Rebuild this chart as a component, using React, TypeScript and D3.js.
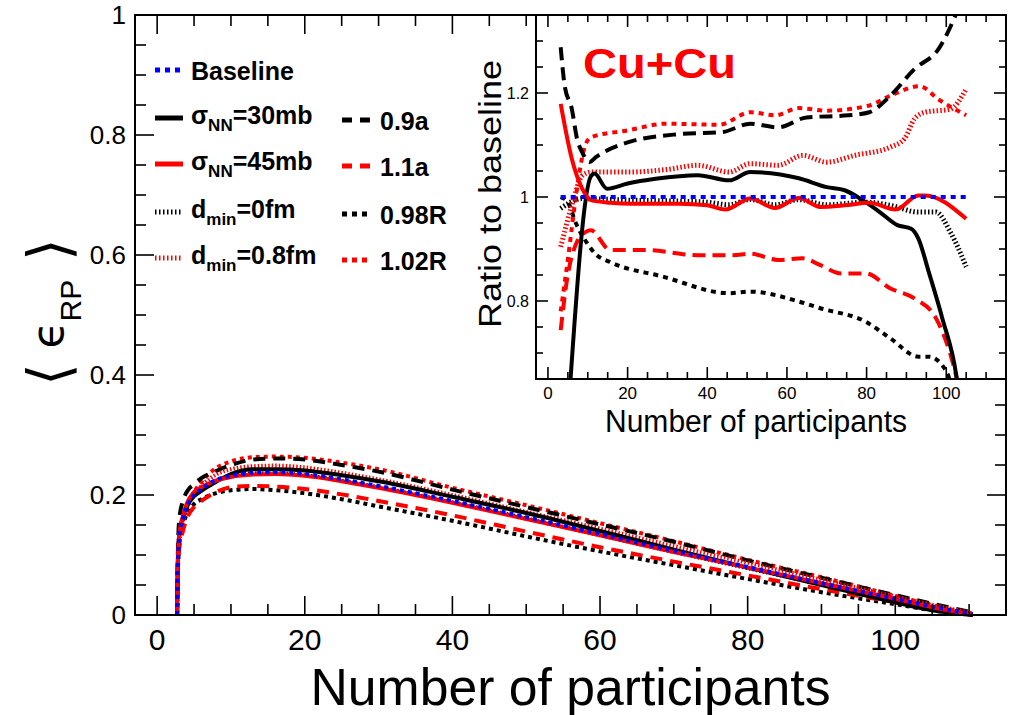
import React, { useRef, useEffect } from "react";
import * as d3 from "d3";

// main panel: <eps_RP> vs number of participants (shared x grid)
const mainN = [2.7, 2.8, 3, 3.5, 4, 5, 6, 8, 10, 13, 16, 20, 25, 30, 40, 50, 60, 70, 80, 90, 100, 105, 110.5];
const mainBaseline = [0, 0.08, 0.13, 0.16, 0.18, 0.2, 0.21, 0.225, 0.232, 0.237, 0.238, 0.235, 0.226, 0.215, 0.19, 0.163, 0.135, 0.107, 0.08, 0.053, 0.027, 0.014, 0.001];
const mainSigma30 = [0, 0.09, 0.135, 0.163, 0.18, 0.198, 0.207, 0.222, 0.235, 0.243, 0.243, 0.241, 0.233, 0.223, 0.197, 0.17, 0.14, 0.109, 0.079, 0.05, 0.021, 0.008, 0];
const mainSigma45 = [0, 0.085, 0.135, 0.165, 0.185, 0.205, 0.213, 0.224, 0.23, 0.234, 0.235, 0.232, 0.223, 0.212, 0.187, 0.16, 0.133, 0.105, 0.079, 0.053, 0.027, 0.013, 0.001];
const mainDmin0 = [0, 0.08, 0.128, 0.158, 0.178, 0.199, 0.209, 0.224, 0.231, 0.236, 0.236, 0.233, 0.224, 0.213, 0.188, 0.161, 0.133, 0.105, 0.078, 0.051, 0.025, 0.012, 0.001];
const mainDmin08 = [0, 0.075, 0.12, 0.155, 0.178, 0.2, 0.215, 0.234, 0.243, 0.248, 0.249, 0.246, 0.237, 0.226, 0.2, 0.172, 0.144, 0.115, 0.087, 0.059, 0.031, 0.017, 0.003];
const mainA09 = [0, 0.1, 0.16, 0.19, 0.205, 0.218, 0.228, 0.24, 0.25, 0.259, 0.261, 0.259, 0.25, 0.239, 0.209, 0.18, 0.151, 0.122, 0.091, 0.062, 0.033, 0.019, 0.004];
const mainA11 = [0, 0.07, 0.11, 0.14, 0.16, 0.18, 0.19, 0.205, 0.213, 0.215, 0.214, 0.21, 0.201, 0.19, 0.166, 0.139, 0.113, 0.089, 0.066, 0.043, 0.021, 0.009, 0];
const mainR098 = [0, 0.075, 0.12, 0.15, 0.168, 0.185, 0.193, 0.203, 0.208, 0.21, 0.208, 0.203, 0.193, 0.181, 0.157, 0.131, 0.106, 0.083, 0.06, 0.038, 0.018, 0.008, 0];
const mainR102 = [0, 0.07, 0.12, 0.155, 0.18, 0.205, 0.222, 0.245, 0.256, 0.263, 0.264, 0.262, 0.254, 0.243, 0.212, 0.183, 0.153, 0.123, 0.092, 0.063, 0.032, 0.016, 0.002];

// inset: ratio to baseline
const insBaselineN = [3.2, 105];
const insBaselineR = [1, 1];
const insSigma30N = [5.4, 10.8, 11.7, 14.8, 20, 27, 37.6, 45.5, 50.8, 63, 70, 74.5, 79, 83.3, 87.7, 91.2, 93, 95.6, 99, 102.6, 103.5];
const insSigma30R = [0.62, 1.04, 1.045, 1.016, 1.026, 1.035, 1.042, 1.032, 1.048, 1.036, 1.019, 1.013, 0.994, 0.971, 0.946, 0.939, 0.92, 0.856, 0.767, 0.653, 0.6];
const insSigma45N = [3.2, 6, 8.6, 10.8, 15.6, 21, 33, 40, 44.6, 50.8, 57, 63, 68.4, 74.5, 80.7, 87.3, 93, 94.7, 105];
const insSigma45R = [1.179, 1.073, 1.016, 0.994, 0.989, 0.987, 0.987, 0.984, 0.976, 0.997, 0.979, 0.998, 0.981, 0.984, 0.989, 0.976, 1.003, 1.003, 0.958];
const insDmin0N = [3.2, 8.6, 20, 33, 40, 45.5, 50.8, 57, 63, 70, 80, 86, 93, 97.4, 101, 105];
const insDmin0R = [0.978, 0.997, 0.994, 0.992, 0.99, 0.985, 0.995, 0.985, 0.995, 0.985, 0.99, 0.984, 0.971, 0.971, 0.933, 0.866];
const insDmin08N = [3.2, 6, 8.6, 10.8, 20, 30, 37.6, 45.5, 50.8, 57.8, 64, 70, 77, 86, 89.5, 92, 94.7, 101, 105];
const insDmin08R = [0.904, 0.984, 1.041, 1.048, 1.048, 1.053, 1.061, 1.048, 1.064, 1.061, 1.08, 1.067, 1.08, 1.096, 1.112, 1.15, 1.163, 1.169, 1.208];
const insA09N = [3.2, 4.2, 6, 7.3, 8.6, 10.4, 12.1, 20, 33, 43.8, 50.8, 57.8, 64.9, 75.4, 80.7, 86, 92, 98, 103.5];
const insA09R = [1.288, 1.214, 1.169, 1.112, 1.086, 1.067, 1.077, 1.105, 1.121, 1.125, 1.141, 1.134, 1.153, 1.157, 1.163, 1.195, 1.246, 1.284, 1.37];
const insA11N = [3.2, 4.7, 6.9, 9.5, 10.8, 15.6, 24.4, 37.6, 46.4, 50.8, 57.8, 64, 68.4, 73.6, 79.8, 86, 92, 97.4, 101.8, 103];
const insA11R = [0.744, 0.837, 0.907, 0.933, 0.936, 0.898, 0.898, 0.888, 0.888, 0.891, 0.879, 0.882, 0.869, 0.853, 0.853, 0.824, 0.805, 0.767, 0.677, 0.64];
const insR098N = [3.2, 5, 7, 9.5, 12, 15.6, 28.8, 45.5, 50.8, 63, 68.4, 79.8, 86, 93, 95.6, 100, 101.5];
const insR098R = [1.0, 0.99, 0.95, 0.915, 0.89, 0.875, 0.847, 0.815, 0.818, 0.799, 0.786, 0.76, 0.728, 0.693, 0.693, 0.665, 0.63];
const insR102N = [3.2, 5, 7, 9, 10.8, 20, 29.7, 43, 50.8, 57, 63, 70, 80.7, 86, 93.4, 98, 105];
const insR102R = [0.78, 0.88, 1.0, 1.09, 1.115, 1.128, 1.141, 1.139, 1.163, 1.157, 1.171, 1.166, 1.176, 1.195, 1.213, 1.188, 1.157];

const xTickLabels = [0, 20, 40, 60, 80, 100];
const mainYTicks = [0, 0.2, 0.4, 0.6, 0.8, 1];
const insetYTicks = [0.8, 1, 1.2];

const legendCol1 = [["Baseline"], ["σ", "NN", "=30mb"], ["σ", "NN", "=45mb"], ["d", "min", "=0fm"], ["d", "min", "=0.8fm"]];
const legendCol2 = ["0.9a", "1.1a", "0.98R", "1.02R"];

const RED = "#ff0000";
const BLUE = "#0000ff";

// drawn in this order (baseline last, on top)
const series = [
  { key: "0.98R", main: mainR098, n: insR098N, r: insR098R, color: "#000", kind: "dot" },
  { key: "1.02R", main: mainR102, n: insR102N, r: insR102R, color: RED, kind: "dot" },
  { key: "0.9a", main: mainA09, n: insA09N, r: insA09R, color: "#000", kind: "dash" },
  { key: "1.1a", main: mainA11, n: insA11N, r: insA11R, color: RED, kind: "dash" },
  { key: "dmin0", main: mainDmin0, n: insDmin0N, r: insDmin0R, color: "#000", kind: "fine" },
  { key: "dmin08", main: mainDmin08, n: insDmin08N, r: insDmin08R, color: RED, kind: "fine" },
  { key: "s30", main: mainSigma30, n: insSigma30N, r: insSigma30R, color: "#000", kind: "solid" },
  { key: "s45", main: mainSigma45, n: insSigma45N, r: insSigma45R, color: RED, kind: "solid" },
  { key: "base", main: mainBaseline, n: insBaselineN, r: insBaselineR, color: BLUE, kind: "dot" },
];

const mainDash: Record<string, string | null> = { solid: null, dot: "4,4", dash: "12,8", fine: "1.5,2" };
const insetDash: Record<string, string | null> = { solid: null, dot: "5,5", dash: "13,7", fine: "1.5,2.2" };

function App() {
  const svgRef = useRef<SVGSVGElement>(null);

  useEffect(() => {
    document.body.style.margin = "0";
    const svg = d3.select(svgRef.current);
    svg.selectAll("*").remove();

    const font = "'Liberation Sans', Arial, Helvetica, sans-serif";
    const M = { left: 135, right: 1006, top: 15, bottom: 615 };
    const I = { left: 536, right: 1006, top: 15, bottom: 379 };

    const x = d3.scaleLinear().domain([-3, 115]).range([M.left, M.right]);
    const y = d3.scaleLinear().domain([0, 1]).range([M.bottom, M.top]);
    const xi = d3.scaleLinear().domain([-3, 115]).range([I.left, I.right]);
    const yi = d3.scaleLinear().domain([0.65, 1.35]).range([I.bottom, I.top]);

    svg.append("rect").attr("width", 1024).attr("height", 715).attr("fill", "#fff");

    // ---- main curves
    const gMain = svg.append("g");
    series.forEach((s) => {
      const path = d3
        .line<number>()
        .x((_, i) => x(mainN[i]))
        .y((d) => y(d))
        .curve(d3.curveMonotoneX)(s.main);
      gMain
        .append("path")
        .attr("d", path)
        .attr("fill", "none")
        .attr("stroke", s.color)
        .attr("stroke-width", 4)
        .attr("stroke-dasharray", mainDash[s.kind]);
    });

    // ticks on all four sides, pointing inwards
    function drawTicks(g, sx, sy, box, xMaj, xMin, yMaj, yMin, lMaj, lMin) {
      const t = g.append("g").attr("stroke", "#000").attr("stroke-width", 1.6);
      xMin.forEach((v) => {
        const len = xMaj.includes(v) ? lMaj : lMin;
        t.append("line").attr("x1", sx(v)).attr("x2", sx(v)).attr("y1", box.bottom).attr("y2", box.bottom - len);
        t.append("line").attr("x1", sx(v)).attr("x2", sx(v)).attr("y1", box.top).attr("y2", box.top + len);
      });
      yMin.forEach((v) => {
        const len = yMaj.some((m) => Math.abs(m - v) < 1e-6) ? lMaj : lMin;
        t.append("line").attr("y1", sy(v)).attr("y2", sy(v)).attr("x1", box.left).attr("x2", box.left + len);
        t.append("line").attr("y1", sy(v)).attr("y2", sy(v)).attr("x1", box.right).attr("x2", box.right - len);
      });
      g.append("rect")
        .attr("x", box.left)
        .attr("y", box.top)
        .attr("width", box.right - box.left)
        .attr("height", box.bottom - box.top)
        .attr("fill", "none")
        .attr("stroke", "#000")
        .attr("stroke-width", 2);
    }

    drawTicks(svg, x, y, M, xTickLabels, d3.range(0, 111, 5), mainYTicks, d3.range(0.05, 1, 0.05).map((v) => +v.toFixed(2)), 19, 11);

    // main tick labels
    svg
      .append("g")
      .selectAll("text")
      .data(xTickLabels)
      .join("text")
      .attr("x", (d) => x(d))
      .attr("y", 650)
      .attr("text-anchor", "middle")
      .attr("font-family", font)
      .attr("font-size", 30)
      .text((d) => d);
    svg
      .append("g")
      .selectAll("text")
      .data(mainYTicks)
      .join("text")
      .attr("x", 126)
      .attr("y", (d) => y(d) + 9)
      .attr("text-anchor", "end")
      .attr("font-family", font)
      .attr("font-size", 26)
      .text((d) => String(d));

    svg
      .append("text")
      .attr("x", (M.left + M.right) / 2)
      .attr("y", 705)
      .attr("text-anchor", "middle")
      .attr("font-family", font)
      .attr("font-size", 52)
      .attr("textLength", 520)
      .attr("lengthAdjust", "spacingAndGlyphs")
      .text("Number of participants");

    const yl = svg
      .append("text")
      .attr("transform", "translate(63,312) rotate(-90)")
      .attr("text-anchor", "middle")
      .attr("font-family", "'DejaVu Sans', " + font)
      .attr("font-size", 44);
    yl.append("tspan").attr("font-size", 58).attr("font-weight", 200).attr("dy", 6).text("⟨");
    yl.append("tspan").attr("dy", -6).text(" ϵ");
    yl.append("tspan").attr("dy", 18).attr("font-size", 30).attr("font-family", font).text("RP");
    yl.append("tspan").attr("dy", -12).attr("font-size", 58).attr("font-weight", 200).text(" ⟩");

    // ---- legend
    const lg = svg.append("g").attr("font-family", font).attr("font-weight", "bold").attr("font-size", 25);
    const rowY = [70, 118, 164, 212, 258];
    const sample = (x1: number, yy: number, color: string, kind: string) =>
      lg
        .append("line")
        .attr("x1", x1)
        .attr("x2", x1 + 28)
        .attr("y1", yy)
        .attr("y2", yy)
        .attr("stroke", color)
        .attr("stroke-width", 5)
        .attr("stroke-dasharray", { solid: null, dot: "5,5", dash: "10,8", fine: "1.5,2.5" }[kind]);
    const col1Style = [
      [BLUE, "dot"],
      ["#000", "solid"],
      [RED, "solid"],
      ["#000", "fine"],
      [RED, "fine"],
    ];
    const col2Style = [
      ["#000", "dash"],
      [RED, "dash"],
      ["#000", "dot"],
      [RED, "dot"],
    ];
    legendCol1.forEach((parts, i) => {
      sample(155, rowY[i], col1Style[i][0], col1Style[i][1]);
      const t = lg.append("text").attr("x", 191).attr("y", rowY[i] + (parts.length > 1 ? 6 : 10));
      t.append("tspan").text(parts[0]);
      if (parts.length > 1) {
        t.append("tspan").attr("dy", 7).attr("font-size", 17).text(parts[1]);
        t.append("tspan").attr("dy", -7).text(parts[2]);
      }
    });
    legendCol2.forEach((label, i) => {
      sample(342, rowY[i + 1] + 2, col2Style[i][0], col2Style[i][1]);
      lg.append("text").attr("x", 380).attr("y", rowY[i + 1] + 12).text(label);
    });

    // ---- inset
    const gi = svg.append("g");
    gi.append("rect")
      .attr("x", I.left)
      .attr("y", I.top)
      .attr("width", I.right - I.left)
      .attr("height", I.bottom - I.top)
      .attr("fill", "#fff");
    svg
      .append("defs")
      .append("clipPath")
      .attr("id", "insetClip")
      .append("rect")
      .attr("x", I.left)
      .attr("y", I.top)
      .attr("width", I.right - I.left)
      .attr("height", I.bottom - I.top);
    const gc = gi.append("g").attr("clip-path", "url(#insetClip)");
    series.forEach((s) => {
      const path = d3
        .line<number>()
        .x((_, i) => xi(s.n[i]))
        .y((d) => yi(d))
        .curve(d3.curveMonotoneX)(s.r);
      gc.append("path")
        .attr("d", path)
        .attr("fill", "none")
        .attr("stroke", s.color)
        .attr("stroke-width", s.kind === "fine" ? 5 : 4)
        .attr("stroke-dasharray", insetDash[s.kind]);
    });

    drawTicks(gi, xi, yi, I, xTickLabels, d3.range(0, 111, 5), insetYTicks, d3.range(0.7, 1.35, 0.05).map((v) => +v.toFixed(2)), 12, 7);

    gi.append("g")
      .selectAll("text")
      .data(xTickLabels)
      .join("text")
      .attr("x", (d) => xi(d))
      .attr("y", 399)
      .attr("text-anchor", "middle")
      .attr("font-family", font)
      .attr("font-size", 17)
      .text((d) => d);
    gi.append("g")
      .selectAll("text")
      .data(insetYTicks)
      .join("text")
      .attr("x", 529)
      .attr("y", (d) => yi(d) + 6)
      .attr("text-anchor", "end")
      .attr("font-family", font)
      .attr("font-size", 16)
      .text((d) => String(d));

    gi.append("text")
      .attr("x", 756)
      .attr("y", 432)
      .attr("text-anchor", "middle")
      .attr("font-family", font)
      .attr("font-size", 31)
      .attr("textLength", 302)
      .attr("lengthAdjust", "spacingAndGlyphs")
      .text("Number of participants");
    gi.append("text")
      .attr("transform", "translate(501,194) rotate(-90)")
      .attr("text-anchor", "middle")
      .attr("font-family", font)
      .attr("font-size", 32)
      .attr("textLength", 268)
      .attr("lengthAdjust", "spacingAndGlyphs")
      .text("Ratio to baseline");
    gi.append("text")
      .attr("x", 583)
      .attr("y", 78)
      .attr("fill", RED)
      .attr("font-family", font)
      .attr("font-weight", "bold")
      .attr("font-size", 43)
      .attr("textLength", 153)
      .attr("lengthAdjust", "spacingAndGlyphs")
      .text("Cu+Cu");
  }, []);

  return <svg ref={svgRef} width={1024} height={715} style={{ display: "block" }} />;
}

export default App;
